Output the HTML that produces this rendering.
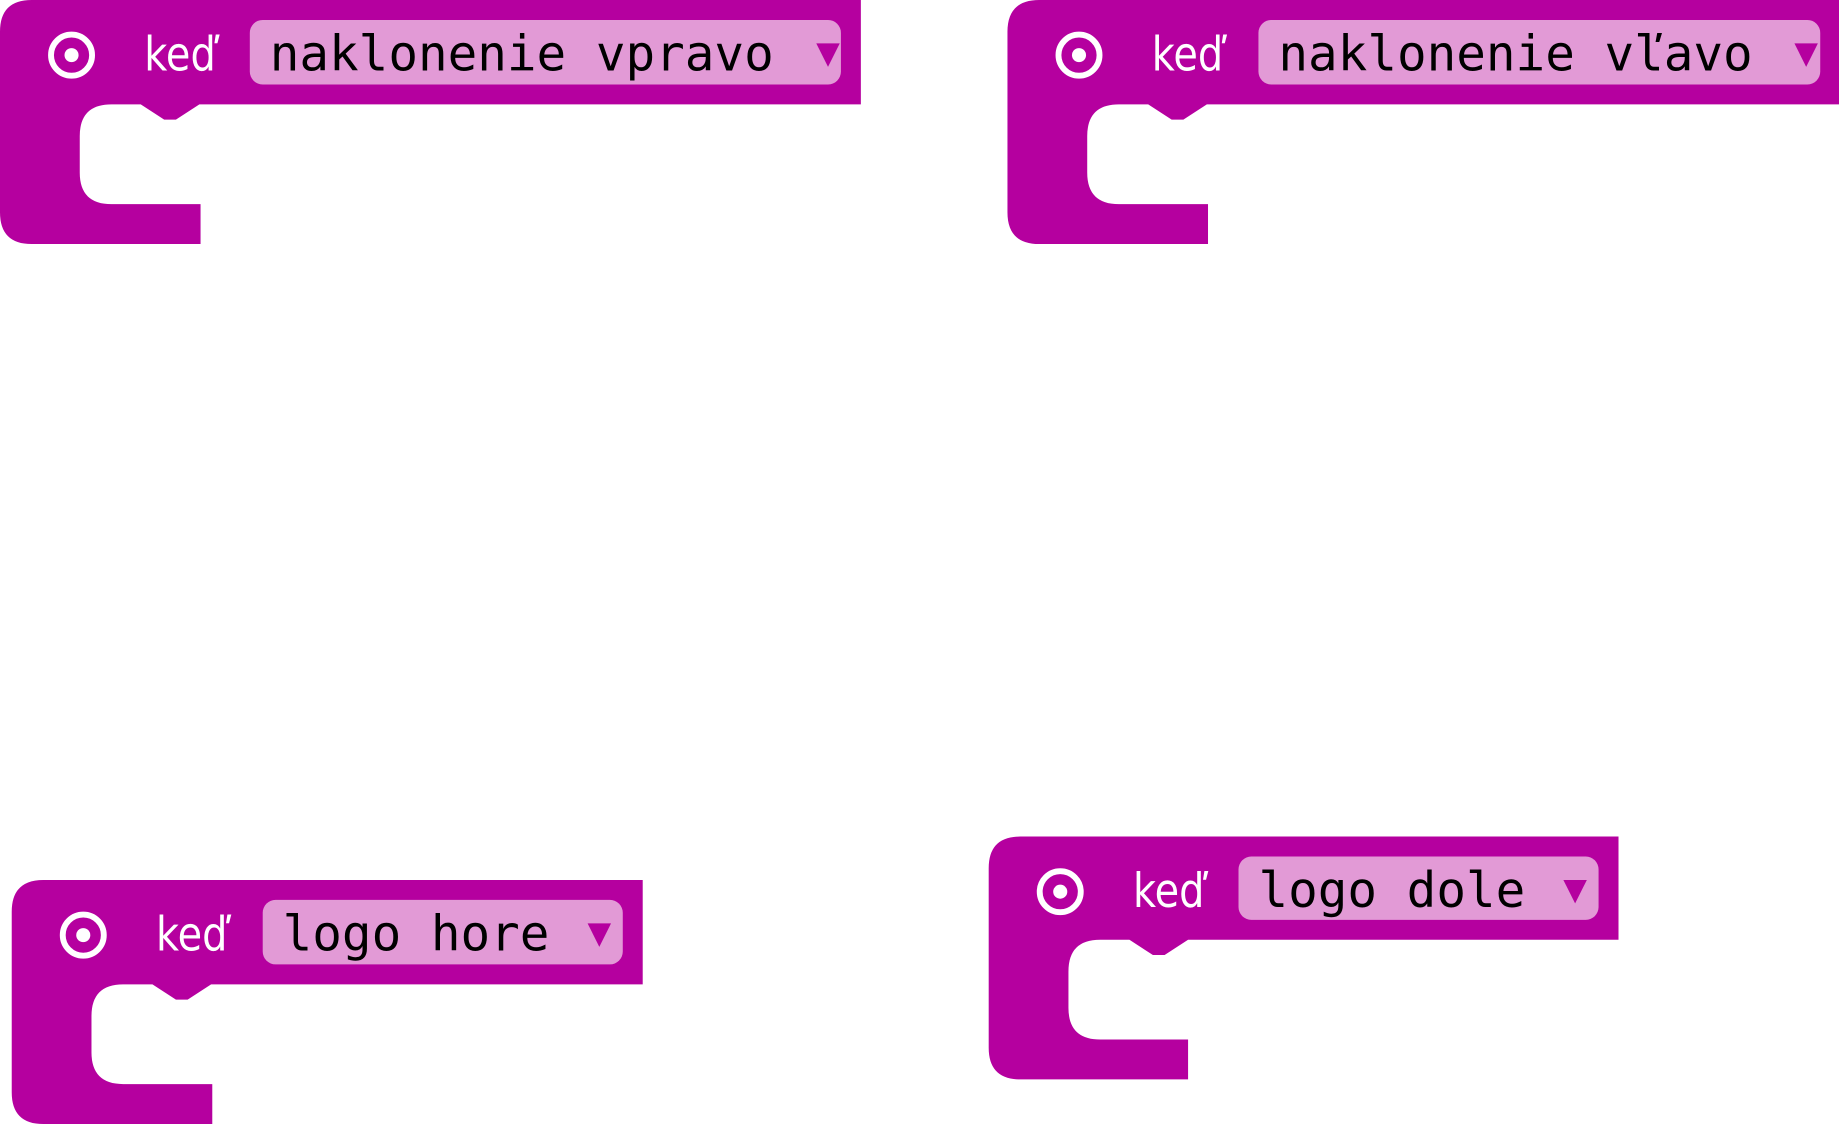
<!DOCTYPE html>
<html><head><meta charset="utf-8"><style>html,body{margin:0;padding:0;background:#fff;overflow:hidden}svg{display:block}</style></head>
<body>
<svg width="1839" height="1124" viewBox="0 0 1568 958" preserveAspectRatio="none" xmlns="http://www.w3.org/2000/svg">
<defs>
<g id="icon"><circle cx="0" cy="0" r="17.5" fill="none" stroke="#fff" stroke-width="5"/><circle cx="0" cy="0" r="6" fill="#fff"/></g>
</defs>
<g font-family="'DejaVu Sans Mono','Liberation Mono',monospace">
<!-- Block 1 -->
<g transform="translate(0,0)">
<path d="M0,27 Q0,0 27,0 H734 V89 H170 L150,102 H140 L120,89 H95 Q68,89 68,116 V147 Q68,174 95,174 H171 V208 H27 Q0,208 0,181 Z" fill="#b5009f"/>
<use href="#icon" x="61" y="47"/>
<text transform="translate(123,60) scale(0.85,1)" font-family="'DejaVu Sans','Liberation Sans',sans-serif" font-size="40" fill="#fff">keď</text>
<rect x="213" y="17" width="504" height="55" rx="11" fill="#e29ad6"/>
<text x="230" y="60" font-size="42" fill="#000">naklonenie vpravo</text>
<path d="M696,37 H716 L706,57 Z" fill="#b5009f"/>
</g>
<!-- Block 2 -->
<g transform="translate(859,0)">
<path d="M0,27 Q0,0 27,0 H709 V89 H170 L150,102 H140 L120,89 H95 Q68,89 68,116 V147 Q68,174 95,174 H171 V208 H27 Q0,208 0,181 Z" fill="#b5009f"/>
<use href="#icon" x="61" y="47"/>
<text transform="translate(123,60) scale(0.85,1)" font-family="'DejaVu Sans','Liberation Sans',sans-serif" font-size="40" fill="#fff">keď</text>
<rect x="214" y="17" width="479" height="55" rx="11" fill="#e29ad6"/>
<text x="231" y="60" font-size="42" fill="#000">naklonenie vľavo</text>
<path d="M671,37 H691 L681,57 Z" fill="#b5009f"/>
</g>
<!-- Block 3 -->
<g transform="translate(10,750)">
<path d="M0,27 Q0,0 27,0 H538 V89 H170 L150,102 H140 L120,89 H95 Q68,89 68,116 V147 Q68,174 95,174 H171 V208 H27 Q0,208 0,181 Z" fill="#b5009f"/>
<use href="#icon" x="61" y="47"/>
<text transform="translate(123,60) scale(0.85,1)" font-family="'DejaVu Sans','Liberation Sans',sans-serif" font-size="40" fill="#fff">keď</text>
<rect x="214" y="17" width="307" height="55" rx="11" fill="#e29ad6"/>
<text x="231" y="60" font-size="42" fill="#000">logo hore</text>
<path d="M491,37 H511 L501,57 Z" fill="#b5009f"/>
</g>
<!-- Block 4 -->
<g transform="translate(843,713)">
<path d="M0,27 Q0,0 27,0 H537 V88 H170 L150,101 H140 L120,88 H95 Q68,88 68,115 V146 Q68,173 95,173 H170 V207 H27 Q0,207 0,180 Z" fill="#b5009f"/>
<use href="#icon" x="61" y="47"/>
<text transform="translate(123,60) scale(0.85,1)" font-family="'DejaVu Sans','Liberation Sans',sans-serif" font-size="40" fill="#fff">keď</text>
<rect x="213" y="17" width="307" height="54" rx="11" fill="#e29ad6"/>
<text x="230" y="60" font-size="42" fill="#000">logo dole</text>
<path d="M490,37 H510 L500,57 Z" fill="#b5009f"/>
</g>
</g>
</svg>
</body></html>
